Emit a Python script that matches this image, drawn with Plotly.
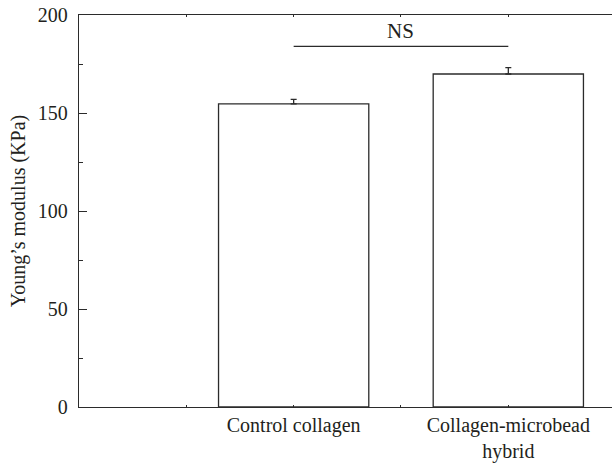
import plotly.graph_objects as go

categories = ["Control collagen", "Collagen-microbead<br>hybrid"]
x_pos = [1, 2]
values = [154.7, 169.9]
errors = [2.3, 3.2]
tick_vals = [0.5, 1, 1.5, 2]
tick_text = ["", categories[0], "", categories[1]]
y_ticks = [0, 50, 100, 150, 200]
sig_label = "NS"
sig_y = 184
sig_text_y = 192

LINE = "#2b2b2b"
TEXT = "#231f20"
FONT = "Liberation Serif"

fig = go.Figure()
fig.add_trace(go.Bar(
    x=x_pos, y=values, width=0.70,
    marker=dict(color="white", line=dict(color=LINE, width=1.3)),
    error_y=dict(type="data", array=errors, arrayminus=[0, 0], symmetric=False,
                 color=LINE, thickness=1.3, width=3),
    showlegend=False,
))

fig.add_shape(type="line", x0=x_pos[0], x1=x_pos[1], y0=sig_y, y1=sig_y,
              xref="x", yref="y", line=dict(color=LINE, width=1.3))
fig.add_annotation(x=(x_pos[0] + x_pos[1]) / 2, y=sig_text_y, text=sig_label,
                   showarrow=False, xref="x", yref="y",
                   font=dict(family=FONT, size=21, color=TEXT))

fig.update_layout(
    width=612, height=463,
    margin=dict(l=79, r=0, t=15, b=56, pad=0, autoexpand=False),
    plot_bgcolor="white", paper_bgcolor="white",
    font=dict(family=FONT, size=20, color=TEXT),
    xaxis=dict(
        range=[0, 2.483], tickvals=tick_vals, ticktext=tick_text,
        automargin=False,
        showline=True, linecolor=LINE, linewidth=1.3, mirror="ticks",
        ticks="inside", ticklen=2, tickwidth=1, tickcolor=LINE,
        showgrid=False, zeroline=False,
        tickfont=dict(family=FONT, size=20, color=TEXT),
    ),
    yaxis=dict(
        range=[0, 200], tickvals=y_ticks,
        automargin=False,
        showline=True, linecolor=LINE, linewidth=1.3,
        ticks="inside", ticklen=8, tickwidth=1.3, tickcolor=LINE,
        minor=dict(ticks="inside", ticklen=4, tickwidth=1, tickcolor=LINE,
                   tick0=25, dtick=50),
        showgrid=False, zeroline=False,
        ticklabelstandoff=6,
        tickfont=dict(family=FONT, size=20, color=TEXT),
        title=dict(text="Young’s modulus (KPa)", standoff=6,
                   font=dict(family=FONT, size=20, color=TEXT)),
    ),
)

fig.write_html("out.html")
